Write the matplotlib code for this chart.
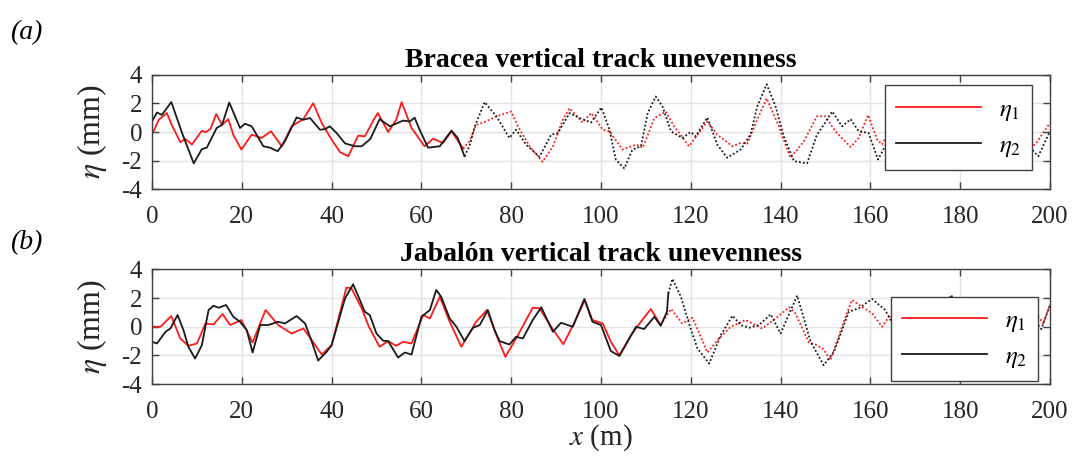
import numpy as np
import matplotlib
matplotlib.use("Agg")
import matplotlib.pyplot as plt

# ---- data ----
# (a) Bracea: measured part is solid up to x_split_a, rest dotted
x_split_a = 70.0
bra_x1 = [0, 1.5, 3.3, 4.4, 6.3, 7.4, 8.9, 11.1, 11.9, 13, 14.3, 15.6, 17, 18.1, 19.9, 22.2, 24.4, 26.5,
          28.9, 31.1, 33.7, 35.9, 37.8, 40, 41.9, 43.7, 45.9, 47.4, 49.6, 50.3, 52.6, 54.4, 55.6, 57.8,
          60.7, 62.6, 64.8, 66.7, 69.3, 70.7, 72.2, 74.4, 76.7, 80, 81.5, 84.1, 87, 89.3, 91.5, 93, 95.9,
          97.8, 98.8, 100.4, 101.9, 104.8, 107.8, 109.3, 111.9, 114.4, 116.3, 119.6, 123.7, 125.9, 129.3,
          131.1, 132.6, 134.8, 136.9, 139.3, 142.2, 145.2, 148.1, 150, 152.2, 155.6, 157.4, 159.5, 161.5,
          162.6, 164.7, 167, 170, 173, 176, 179, 182, 185, 188, 191, 194.4, 196.7, 200]
bra_eta1 = [-0.2, 0.86, 1.33, 0.5, -0.72, -0.49, -0.88, 0.09, -0.02, 0.2, 1.26, 0.5, 0.9, -0.19, -1.23, -0.19,
            -0.42, 0.05, -1.0, 0.4, 0.9, 2.02, 0.63, -0.53, -1.42, -1.7, -0.26, -0.3, 0.98, 1.33, 0.0, 0.86,
            2.1, 0.28, -1.0, -0.47, -0.77, 0.05, -1.16, -0.65, 0.5, 0.74, 1.1, 1.44, 0.4, -1.0, -2.1, -1.0,
            0.86, 1.67, 0.67, 1.33, 0.9, 0.16, 0.05, -1.23, -0.88, -1.1, 0.98, 1.44, 0.4, -1.0, 0.74, -0.19,
            -1.0, -0.77, -0.81, 0.86, 2.37, 0.63, -1.81, -0.65, 1.1, 1.1, 0.05, -1.05, -0.42, 1.2, -0.53,
            -0.88, 0.4, 1.0, -0.3, 0.5, -0.8, 0.2, -0.5, 0.6, -0.4, 0.3, -1.19, -0.88, 0.63]
bra_x2 = [0, 1.1, 2.2, 4.3, 6.7, 9.3, 11.1, 12.2, 14.4, 15.6, 17.2, 19.6, 20.7, 22.2, 24.8, 26.3, 28, 29.6,
          32.2, 33.7, 35.2, 37.4, 38.5, 39.6, 41.1, 43, 45.2, 46.7, 48.6, 50.7, 53, 55.9, 57.4, 58.5, 59.6,
          61.5, 64.1, 66.7, 68.1, 69.6, 70.7, 71.9, 74.1, 76.7, 79.6, 81.1, 83.3, 86.3, 88.9, 90.4, 93,
          95.2, 97.8, 100.1, 101.9, 103.3, 105.2, 107, 108.9, 110.4, 112.2, 113.7, 115.6, 118.1, 120,
          121.1, 123.7, 125.9, 128.1, 131.1, 133.3, 134.8, 136.9, 138.9, 140.7, 143, 145.9, 148.1, 149.6,
          151.5, 153.7, 155.6, 157.4, 159.6, 161.7, 163.7, 164.7, 166.1, 168, 170, 172.5, 175, 178, 181,
          184, 187, 190, 192.5, 194.8, 197.4, 200]
bra_eta2 = [0.74, 1.37, 1.2, 2.1, -0.07, -2.2, -1.2, -1.1, 0.28, 0.5, 2.07, 0.28, 0.58, 0.4, -1.0, -1.1, -1.35,
            -0.65, 1.02, 0.86, 0.98, 0.16, 0.2, 0.4, -0.07, -0.8, -1.0, -1.0, -0.5, 0.9, 0.4, 0.8, 0.74, 1.0,
            0.16, -1.1, -1.0, 0.1, -0.42, -1.7, -1.0, 0.4, 2.1, 1.1, -0.42, 0.16, -0.88, -1.74, -0.19, -0.07,
            1.33, 0.98, 0.67, 1.72, 0.16, -1.93, -2.56, -1.23, -1.0, 1.33, 2.49, 1.79, 0.05, -0.42, 0.0,
            -0.3, 1.02, -0.88, -1.81, -1.23, -0.19, 1.79, 3.35, 1.79, -0.3, -2.05, -2.2, -0.19, 0.5, 1.44,
            0.4, 0.9, 0.05, -0.07, -1.93, -0.77, 0.4, 2.14, 0.8, -0.5, 0.6, -0.3, 1.0, -0.6, 0.3, -0.9, 0.2,
            -0.5, -0.81, -1.7, 0.05]

# (b) Jabalon: solid up to x_split_b
x_split_b = 115.0
jab_x1 = [0, 1.9, 4.3, 6.3, 8.1, 10, 11.9, 13.7, 15.7, 17.4, 19.9, 22.4, 25.3, 28.1, 31.1, 33.7, 35.6, 37.8,
          40, 43.3, 44.4, 46.7, 48.3, 50.7, 52.6, 54.4, 55.9, 57.8, 60.4, 61.9, 64.1, 66.3, 68.9, 72.2,
          74.6, 76.7, 78.7, 81.1, 84.8, 86.3, 88.9, 91.6, 94, 96.4, 98.1, 100.4, 102.2, 104.1, 106.7, 108.9,
          111.1, 113.3, 115.6, 118.1, 120.4, 123.7, 126.3, 128.9, 132.2, 135.9, 138.9, 141.9, 143.3, 146.3,
          147.8, 149.6, 151.1, 154.1, 155.9, 158.1, 160.4, 162.6, 164.4, 166.1, 169, 172, 175.9, 178.9,
          182, 185, 188, 191, 193.5, 195.9, 198.5, 200]
jab_eta1 = [0.0, 0.0, 0.75, -0.82, -1.33, -1.17, 0.23, 0.16, 0.89, 0.12, 0.47, -1.1, 1.17, 0.12, -0.47, -0.12,
            -0.94, -1.94, -1.29, 2.74, 2.69, 1.29, 0.0, -1.4, -1.0, -1.33, -1.05, -1.17, 0.82, 0.58, 2.1,
            0.35, -1.4, 0.35, 1.17, -0.58, -2.1, -0.82, 1.33, 1.29, 0.0, -1.22, 0.23, 1.87, 0.47, 0.23, -1.05,
            -2.0, -0.58, 0.35, 1.24, 0.12, 1.24, 0.23, 0.63, -1.8, -0.82, 0.0, 0.47, -0.12, 0.58, 1.36, 0.94,
            -1.1, -1.24, -1.57, -2.34, 0.35, 1.87, 1.4, 0.94, 0.0, 0.82, 0.2, 0.4, -0.3, 1.52, 1.75, 0.3,
            -0.4, 0.5, -0.2, 0.8, 1.4, 0.23, 1.52]
jab_x2 = [0, 1.1, 3, 4.1, 5.7, 7, 8.1, 9.6, 11.1, 12.6, 13.7, 14.8, 16.5, 18.1, 19.6, 21.1, 22.4, 24.1, 25.9,
          28.1, 29.6, 32.2, 34.1, 35.6, 37, 38.9, 40, 43, 44.8, 47.4, 48.5, 50, 51.5, 52.6, 54.8, 56.3,
          57.8, 60, 61.9, 63.3, 64.4, 66.3, 67.8, 69.6, 71.5, 73, 74.8, 76.3, 77.4, 79.6, 81.1, 82.6, 84.8,
          86.7, 89.3, 91.1, 93.7, 96.3, 98.1, 100, 102.2, 104.1, 105.9, 107.8, 109.6, 111.9, 113.3, 114.7,
          115, 115.9, 117.8, 119.6, 121.5, 124.1, 126.7, 129.3, 131.1, 133, 135.2, 137.8, 140, 143.7,
          146.7, 149.6, 151.9, 155.2, 157.4, 160.4, 163.3, 166.1, 169, 172, 175, 178, 181, 184, 187, 190,
          193, 195.9, 198.1, 200]
jab_eta2 = [-1.05, -1.17, -0.35, -0.12, 0.82, -0.23, -1.4, -2.22, -1.29, 1.17, 1.47, 1.33, 1.52, 0.7, 0.35,
            -0.23, -1.8, 0.12, 0.12, 0.35, 0.23, 0.75, 0.23, -1.05, -2.36, -1.75, -1.29, 1.99, 2.97, 1.05,
            0.82, -0.47, -0.98, -1.0, -2.15, -1.8, -1.94, 0.7, 1.17, 2.57, 2.1, 0.58, 0.0, -1.0, -0.07, 0.12,
            1.17, -0.23, -1.0, -1.24, -0.7, -0.82, 0.47, 1.36, -0.35, 0.28, 0.0, 1.94, 0.35, 0.12, -1.7,
            -2.04, -1.05, 0.0, -0.16, 0.7, 0.07, 1.05, 2.34, 3.35, 2.1, 0.23, -1.52, -2.57, -0.58, 0.77,
            0.12, -0.07, 0.12, 0.87, -0.47, 2.18, -1.05, -2.69, -1.75, 1.05, 1.29, 1.94, 1.17, -0.47, 0.5,
            -0.5, 0.6, 2.22, 0.2, -0.6, 0.4, -0.3, 0.5, 0.7, -0.16, 1.52]

titles = ["Bracea vertical track unevenness", "Jabalón vertical track unevenness"]
panel_tags = ["(a)", "(b)"]

plt.rcParams["mathtext.fontset"] = "stix"
plt.rcParams["axes.unicode_minus"] = False

RED = "#ff1a1a"
BLK = "#1a1a1a"
serif = ["Liberation Serif", "DejaVu Serif"]


def draw_split(ax, x, y, split, color):
    x = np.asarray(x, float)
    y = np.asarray(y, float)
    solid = x <= split
    # last solid point is also the first dotted one, so the two parts meet
    k = np.nonzero(solid)[0][-1]
    ax.plot(x[:k + 1], y[:k + 1], color=color, lw=1.3)
    ax.plot(x[k:], y[k:], color=color, lw=1.3, ls=(0, (1, 1.2)))


fig = plt.figure(figsize=(10.75, 4.57), dpi=100)
ax_a = fig.add_axes([0.1414, 0.5864, 0.8353, 0.2495])
ax_b = fig.add_axes([0.1414, 0.1597, 0.8353, 0.2506])

panels = [
    (ax_a, bra_x1, bra_eta1, bra_x2, bra_eta2, x_split_a, (0.824, 0.184, 0.148, 0.711)),
    (ax_b, jab_x1, jab_eta1, jab_x2, jab_eta2, x_split_b, (0.832, 0.114, 0.146, 0.558)),
]

for i, (ax, x1, e1, x2, e2, split, lbox) in enumerate(panels):
    draw_split(ax, x1, e1, split, RED)
    draw_split(ax, x2, e2, split, BLK)

    ax.set_xlim(0, 200)
    ax.set_ylim(-4, 4)
    ax.set_xticks(np.arange(0, 201, 20))
    ax.set_yticks([-4, -2, 0, 2, 4])
    ax.grid(True, color="#e3e3e3", lw=1.0)
    ax.set_axisbelow(True)
    ax.tick_params(direction="in", top=True, right=True, length=5, width=1,
                   color="#404040", labelsize=18, pad=7)
    ax.tick_params(axis="x", pad=12)
    for lab in ax.get_xticklabels() + ax.get_yticklabels():
        lab.set_family(serif)
        lab.set_color("#262626")
    for sp in ax.spines.values():
        sp.set_color("#404040")
        sp.set_linewidth(1.0)

    ax.set_ylabel(r"$\eta$ (mm)", fontsize=23, family=serif, color="#262626", labelpad=9)
    ax.set_title(titles[i], fontsize=20, family=serif, fontweight="bold", pad=6)

    handles = [plt.Line2D([], [], color=RED, lw=1.3), plt.Line2D([], [], color=BLK, lw=1.3)]
    leg = ax.legend(handles, [r"$\eta_1$", r"$\eta_2$"], loc="center",
                    bbox_to_anchor=lbox, fontsize=18, frameon=True, fancybox=False,
                    framealpha=1, edgecolor="#404040", handlelength=3.4,
                    labelspacing=0.4, borderpad=0.45, handletextpad=0.7)
    leg.get_frame().set_linewidth(1.0)

ax_b.set_xlabel(r"$x$ (m)", fontsize=21, family=serif, color="#262626", labelpad=0)

fig.text(0.009, 0.915, panel_tags[0], fontsize=20, family=serif, style="italic")
fig.text(0.009, 0.455, panel_tags[1], fontsize=20, family=serif, style="italic")

fig.savefig("out.png", dpi=100)
